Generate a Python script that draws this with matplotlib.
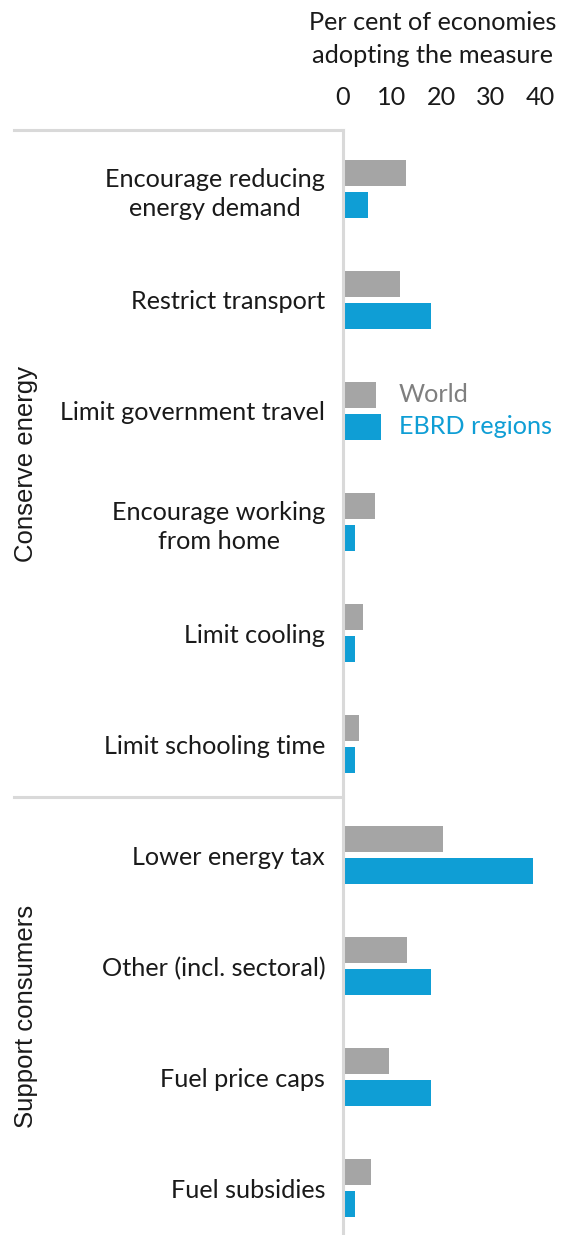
import matplotlib
matplotlib.use("Agg")
import matplotlib.pyplot as plt
from matplotlib.lines import Line2D

# Share of economies adopting each energy-crisis measure (per cent)
categories = [
    "Encourage reducing\nenergy demand",
    "Restrict transport",
    "Limit government travel",
    "Encourage working\nfrom home",
    "Limit cooling",
    "Limit schooling time",
    "Lower energy tax",
    "Other (incl. sectoral)",
    "Fuel price caps",
    "Fuel subsidies",
]
world = [12.9, 11.7, 6.8, 6.5, 4.1, 3.3, 20.4, 13.0, 9.3, 5.7]
ebrd = [5.1, 17.9, 7.7, 2.6, 2.6, 2.6, 38.5, 17.9, 17.9, 2.6]
groups = ["Conserve energy", "Support consumers"]
xticks = [0, 10, 20, 30, 40]
series_names = ["World", "EBRD regions"]

GREY = "#a5a5a5"
BLUE = "#0f9ed5"
LINE = "#d9d9d9"
TEXT = "#1a1a1a"
LABEL_FONT = ["Lato", "DejaVu Sans"]
NARROW_FONT = ["Liberation Sans Narrow", "Liberation Sans", "DejaVu Sans"]
FS = 18.2

W, H, DPI = 564, 1235, 100
fig = plt.figure(figsize=(W / DPI, H / DPI), dpi=DPI)
fig.patch.set_facecolor("white")

ax_left = 342.5 / W
ax_right = 560.3 / W
ax_top = 1 - 130 / H
ax = fig.add_axes([ax_left, 0.0, ax_right - ax_left, ax_top])

n = len(categories)
pos = list(range(n))
bar_h = 0.234
off = 0.144
ax.barh([p - off for p in pos], world, height=bar_h, color=GREY, zorder=2)
ax.barh([p + off for p in pos], ebrd, height=bar_h, color=BLUE, zorder=2)

ax.set_xlim(0, 44)
ax.set_ylim(9.42, -0.53)

# axis styling: ticks along the top, light left spine only
for s in ["right", "bottom", "top"]:
    ax.spines[s].set_visible(False)
ax.spines["left"].set_color(LINE)
ax.spines["left"].set_linewidth(2.2)
ax.xaxis.tick_top()
ax.set_xticks(xticks)
ax.set_xticklabels([str(t) for t in xticks], fontsize=FS, color=TEXT,
                   family=LABEL_FONT)
ax.tick_params(axis="x", length=0, pad=15)
ax.set_yticks(pos)
ax.set_yticklabels(categories, fontsize=FS, color=TEXT, family=LABEL_FONT,
                   multialignment="center", linespacing=1.32)
ax.tick_params(axis="y", length=0, pad=12.5)

# axis title above the tick labels
fig.text(433 / W, 1 - 39 / H, "Per cent of economies\nadopting the measure",
         ha="center", va="center", fontsize=FS, color=TEXT,
         family=LABEL_FONT, linespacing=1.55)

# series labels placed next to the "Limit government travel" bars
ax.text(11.4, 2 - off, series_names[0], color="#7f7f7f", fontsize=FS,
        family=LABEL_FONT, va="center", ha="left")
ax.text(11.4, 2 + off, series_names[1], color=BLUE, fontsize=FS,
        family=LABEL_FONT, va="center", ha="left")


# group separators and rotated group labels
def y_to_fig(y):
    disp = ax.transData.transform((0, y))
    return fig.transFigure.inverted().transform(disp)[1]


bounds = [-0.53, 5.48, 9.42]
for b in bounds[:2]:
    yf = y_to_fig(b)
    fig.add_artist(Line2D([14 / W, 343 / W], [yf, yf], color=LINE, lw=2.2))
for gi, name in enumerate(groups):
    ymid = (y_to_fig(bounds[gi]) + y_to_fig(bounds[gi + 1])) / 2
    fig.text(26 / W, ymid, name, rotation=90, ha="center", va="center",
             fontsize=18.5, color=TEXT, family=NARROW_FONT)

fig.savefig("out.png", dpi=DPI, facecolor="white")
